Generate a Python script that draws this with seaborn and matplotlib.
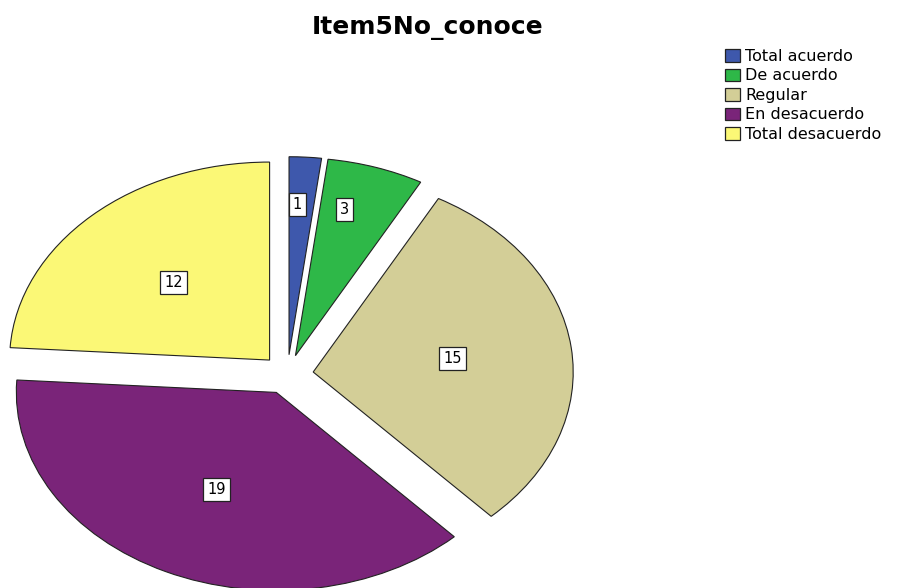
import numpy as np
import matplotlib
matplotlib.use("Agg")
import matplotlib.pyplot as plt
import seaborn as sns
from matplotlib.patches import Patch

categories = ["Total acuerdo", "De acuerdo", "Regular", "En desacuerdo", "Total desacuerdo"]
counts = [1, 3, 15, 19, 12]
title = "Item5No_conoce"
colors = ["#3E58AC", "#2EB848", "#D3CE97", "#7A2479", "#FBF876"]

sns.set_theme(style="white")
plt.rcParams["font.family"] = ["DejaVu Sans"]
plt.rcParams["text.color"] = "black"

fig = plt.figure(figsize=(9.07, 5.88), dpi=100)
ax = fig.add_axes([0, 0, 1, 1])

wedges, _ = ax.pie(counts, colors=colors, explode=[0.1] * len(counts),
                   startangle=90, counterclock=False, radius=1.0,
                   wedgeprops=dict(edgecolor="#222222", linewidth=0.8))
ax.set_aspect("auto")
# map: center at pixel (287.4, 374.5), 260 px/unit in x, 198 px/unit in y
ax.set_xlim(-287.4 / 260, (907 - 287.4) / 260)
ax.set_ylim(-(588 - 374.5) / 198, 374.5 / 198)
ax.axis("off")

total = sum(counts)
for w, v in zip(wedges, counts):
    t1, t2 = w.theta1, w.theta2
    share = v / total
    if share < 0.1:
        ang = np.deg2rad(t2 - 0.33 * (t2 - t1))
        r = 0.76
    else:
        ang = np.deg2rad((t1 + t2) / 2)
        r = 0.54
    cx, cy = w.center
    ax.text(cx + r * np.cos(ang), cy + r * np.sin(ang), str(v),
            ha="center", va="center", fontsize=10.5, color="black",
            bbox=dict(boxstyle="square,pad=0.28", facecolor="white",
                      edgecolor="#222222", linewidth=0.9))

fig.text(428 / 907, 1 - 28 / 588, title, ha="center", va="center",
         fontsize=18, fontweight="bold", color="black")

handles = [Patch(facecolor=c, edgecolor="#222222", linewidth=0.9) for c in colors]
fig.legend(handles, categories, loc="upper left",
           bbox_to_anchor=(725 / 907, 1 - 49 / 588), frameon=False,
           fontsize=11.5, handlelength=0.95, handleheight=0.85,
           handletextpad=0.3, labelspacing=0.28, borderpad=0, borderaxespad=0,
           labelcolor="black")

fig.savefig("out.png", dpi=100)
